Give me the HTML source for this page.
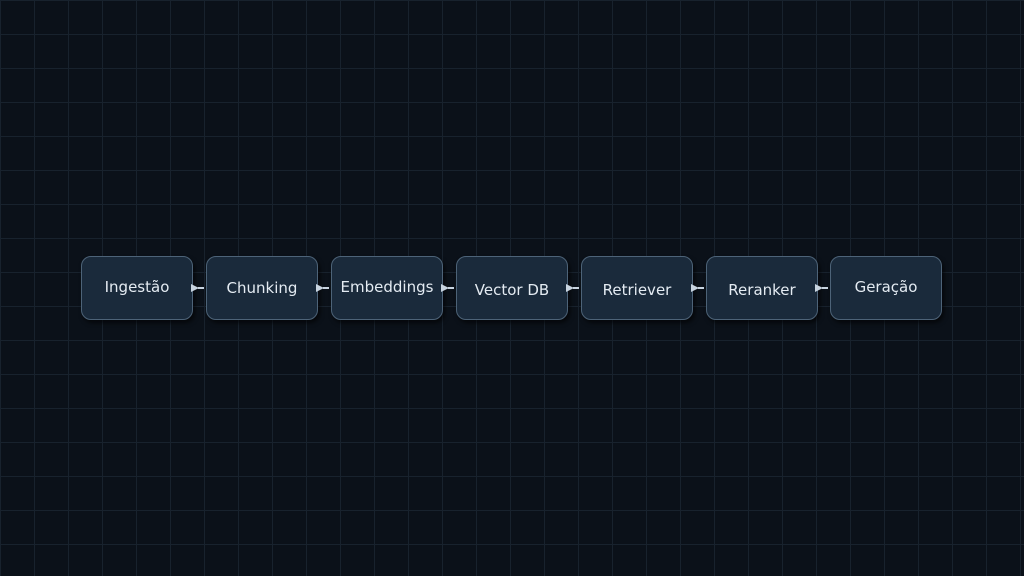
<!DOCTYPE html><html><head><style>
body{margin:0;width:1024px;height:576px;overflow:hidden;background-color:#0b1119;
background-image:linear-gradient(to right,#18222d 1px,transparent 1px),linear-gradient(to bottom,#18222d 1px,transparent 1px);
background-size:34px 34px;background-position:0 0;font-family:"DejaVu Sans","Liberation Sans",sans-serif;}
.b{position:absolute;box-sizing:border-box;top:256px;width:112px;height:64px;border:1px solid #4d6378;border-radius:10px;background:#1a2a3b;color:#e4ebf2;font-size:15px;display:flex;align-items:center;justify-content:center;box-shadow:2px 3px 4px rgba(0,0,0,.6);}
.a{position:absolute;top:284px;width:0;height:0;border-top:4px solid transparent;border-bottom:4px solid transparent;border-left:8px solid #c8d4e0;}
.l{position:absolute;top:287px;width:6px;height:2px;background:#c8d4e0;}
</style></head><body>
<div class="b" style="left:81px;padding-bottom:3px">Ingestão</div>
<div class="b" style="left:206px">Chunking</div>
<div class="b" style="left:331px;padding-bottom:3px">Embeddings</div>
<div class="b" style="left:456px;padding-top:3px">Vector DB</div>
<div class="b" style="left:581px;padding-top:3px">Retriever</div>
<div class="b" style="left:706px;padding-top:3px">Reranker</div>
<div class="b" style="left:830px;padding-bottom:3px">Geração</div>
<div class="a" style="left:191px"></div><div class="l" style="left:198px"></div>
<div class="a" style="left:316px"></div><div class="l" style="left:323px"></div>
<div class="a" style="left:441px"></div><div class="l" style="left:448px"></div>
<div class="a" style="left:566px"></div><div class="l" style="left:573px"></div>
<div class="a" style="left:691px"></div><div class="l" style="left:698px"></div>
<div class="a" style="left:815px"></div><div class="l" style="left:822px"></div>
</body></html>
